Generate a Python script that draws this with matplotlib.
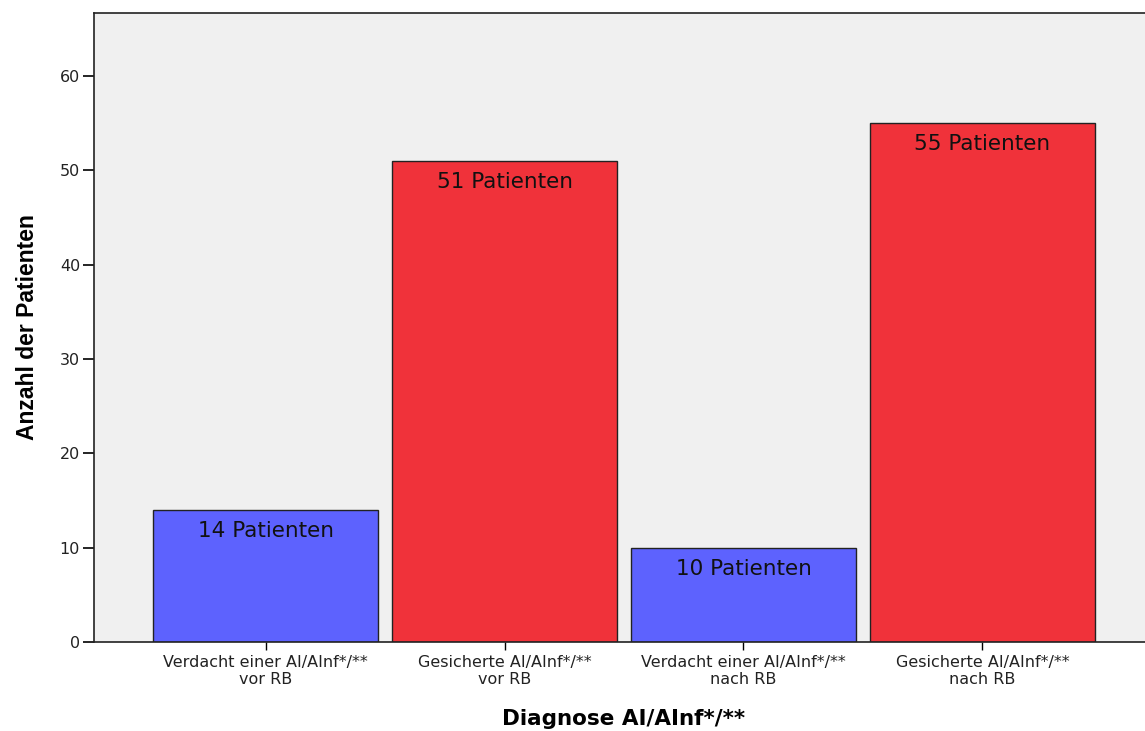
import matplotlib
matplotlib.use("Agg")
import matplotlib.pyplot as plt
from matplotlib import font_manager

# patient counts per diagnosis group
categories = ["Verdacht einer AI/AInf*/**\nvor RB",
              "Gesicherte AI/AInf*/**\nvor RB",
              "Verdacht einer AI/AInf*/**\nnach RB",
              "Gesicherte AI/AInf*/**\nnach RB"]
counts = [14, 51, 10, 55]
bar_labels = ["14 Patienten", "51 Patienten", "10 Patienten", "55 Patienten"]
yticks = [0, 10, 20, 30, 40, 50, 60]

BLUE = "#5d62fe"
RED = "#f0323a"
colors = [BLUE, RED, BLUE, RED]

# narrow bold face for the y label, if one is around
names = {f.name for f in font_manager.fontManager.ttflist}
if "Liberation Sans Narrow" in names:
    ylab_font = dict(family="Liberation Sans Narrow", fontsize=18)
elif "DejaVu Sans Condensed" in names:
    ylab_font = dict(family="DejaVu Sans Condensed", fontsize=15)
else:
    ylab_font = dict(family="Liberation Sans", fontsize=16.5)

fig = plt.figure(figsize=(11.45, 7.31), dpi=100)
# plot area runs slightly past the right edge of the canvas
ax = fig.add_axes([94 / 1145, 89 / 731, 1060 / 1145, 629 / 731])
ax.set_facecolor("#f0f0f0")

x = list(range(len(categories)))
ax.bar(x, counts, width=0.941, color=colors, edgecolor="#222222",
       linewidth=1.0, zorder=2)

for xi, c, lab in zip(x, counts, bar_labels):
    ax.annotate(lab, xy=(xi, c), xytext=(0, -21), textcoords="offset pixels",
                ha="center", va="center", fontsize=15.5,
                family="DejaVu Sans", color="#111111")

ax.set_xlim(-0.718, len(categories) - 1 + 0.718)
ax.set_ylim(0, 66.7)
ax.set_yticks(yticks)
ax.set_xticks(x)
ax.set_xticklabels(categories, fontsize=11.5, family="DejaVu Sans",
                   color="#222222", linespacing=1.2)
ax.tick_params(axis="y", direction="out", length=8, width=1.2,
               labelsize=11.5, pad=2, labelcolor="#222222")
ax.tick_params(axis="x", direction="out", length=6, width=1.0, pad=3)
for side in ("left", "top", "bottom", "right"):
    ax.spines[side].set_linewidth(1.2)
    ax.spines[side].set_color("#222222")

ax.set_ylabel("Anzahl der Patienten", fontweight="bold", labelpad=15,
              **ylab_font)
ax.set_xlabel("Diagnose AI/AInf*/**", fontsize=15.5, fontweight="bold",
              family="DejaVu Sans", labelpad=16)

fig.savefig("out.png", dpi=100)
